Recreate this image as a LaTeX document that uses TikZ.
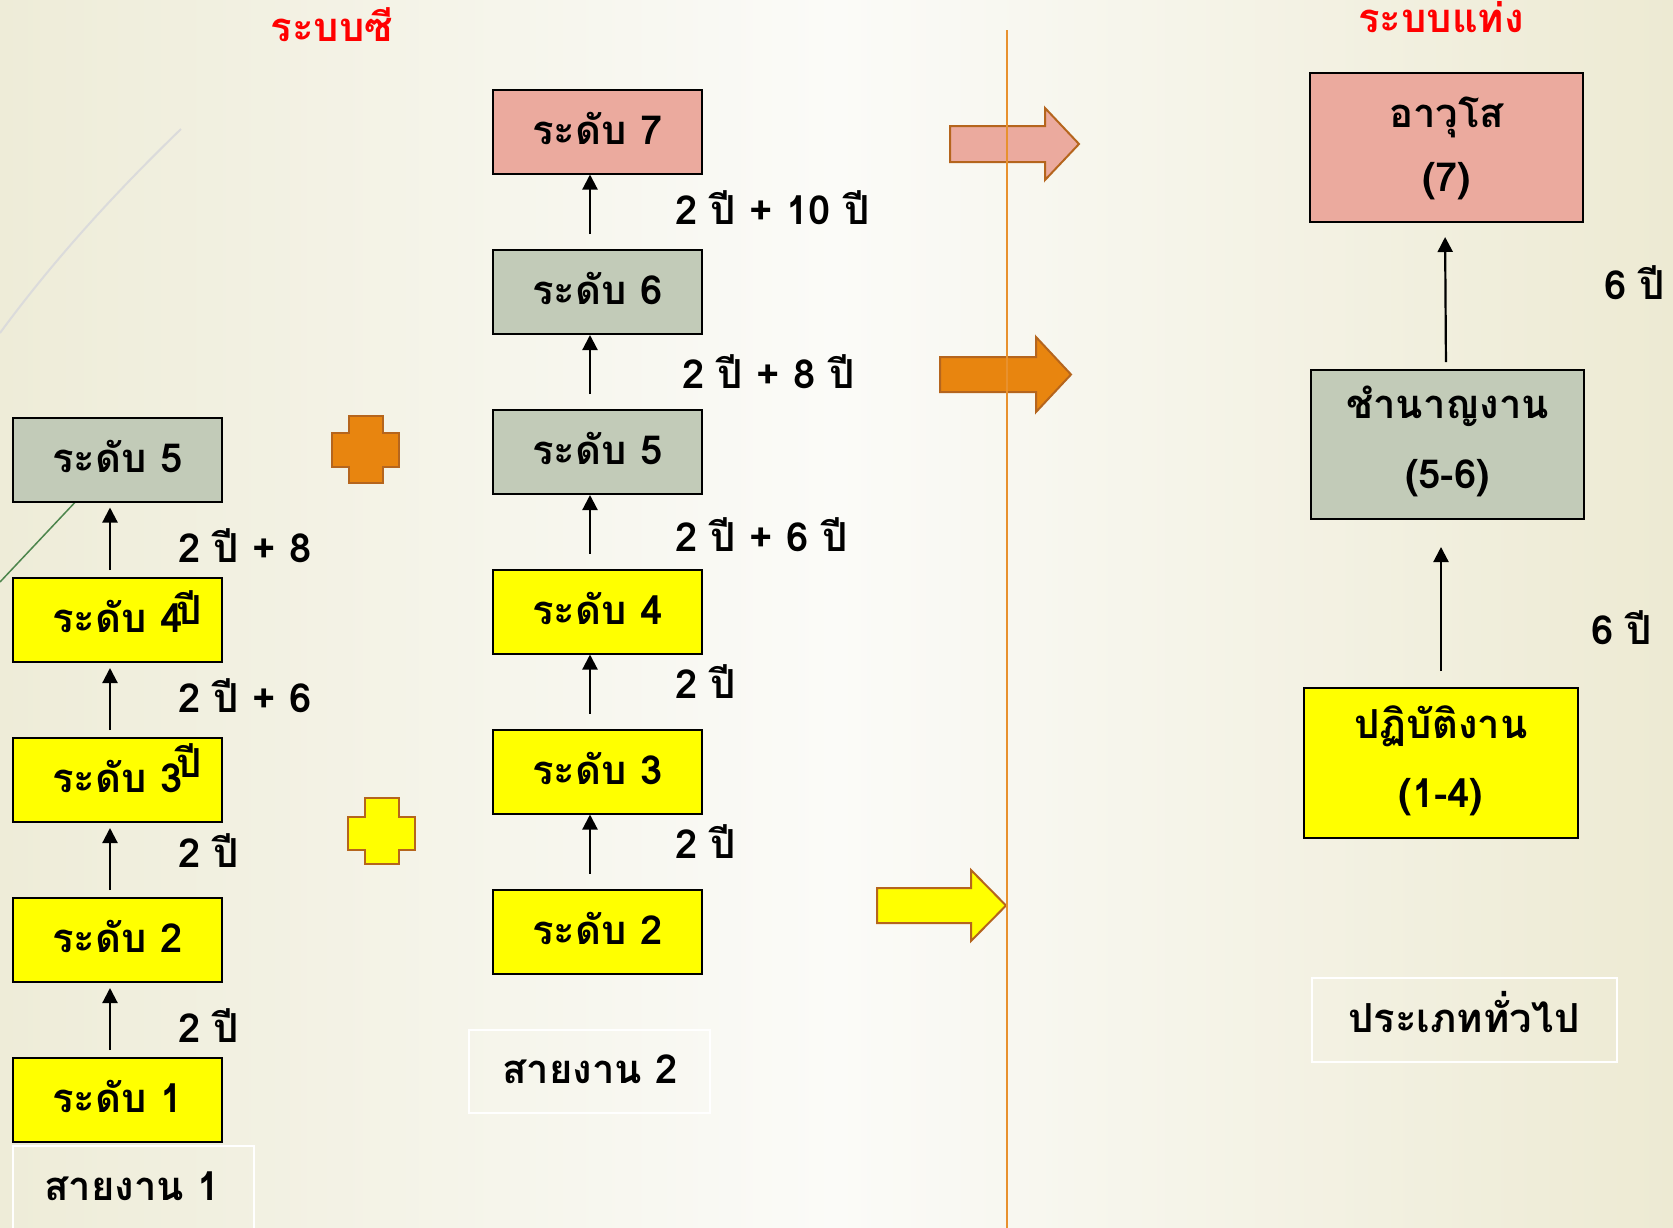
\documentclass[tikz,border=0pt]{standalone}
\usepackage{fontspec}
\newfontfamily\thai[Script=Thai]{Loma}
\usetikzlibrary{arrows.meta}
\definecolor{pinkf}{HTML}{EBAA9E}
\definecolor{greyf}{HTML}{C2CBB8}
\definecolor{yel}{HTML}{FFFF00}
\definecolor{orf}{HTML}{E8850F}
\definecolor{brd}{HTML}{B5651D}
\definecolor{vline}{HTML}{E8912E}
\definecolor{bgL}{HTML}{EEECD8}
\definecolor{bgM}{HTML}{FBFBF8}
\definecolor{bgR}{HTML}{EDEAD3}
\begin{document}
\begin{tikzpicture}[x=1pt,y=-1pt,
  tfont/.style={font=\thai\bfseries\fontsize{40}{48}\selectfont},
  lvl/.style={tfont, draw=black, line width=2pt, inner sep=0pt,
    minimum width=209pt, minimum height=84pt, text height=25pt, text depth=0pt},
  bigbox/.style={draw=black, line width=2pt, inner sep=0pt,
    minimum width=273pt, minimum height=149pt},
  capbox/.style={draw=white, line width=1.5pt, inner sep=0pt},
  txt/.style={tfont, inner sep=0pt, anchor=base},
  lbl/.style={tfont, inner sep=0pt, anchor=base west},
  ttl/.style={tfont, text=red, inner sep=0pt, anchor=base},
  up/.style={-{Triangle[length=15pt,width=15pt]}, line width=2.2pt},
  blk/.style={draw=brd, line width=2pt, line join=miter}
]
\useasboundingbox (0,0) rectangle (1673,1227);
\shade[left color=bgL, right color=bgR, middle color=bgM] (0,0) rectangle (1673,1227);
% theme decoration
\draw[color=black!14, line width=2pt] (0,333) .. controls (55,258) and (118,190) .. (181,129);
\draw[color=black!45!green!40!gray, line width=1.5pt] (0,582) -- (80,497);

% titles
\node[ttl] (t1) at (332,41) {ระบบซี};
\node[ttl] (t2) at (1441,32) {ระบบแท่ง};

% left column
\node[lvl, fill=greyf] (L5) at (117.5,459.5) {ระดับ 5};
\node[lvl, fill=yel] (L4) at (117.5,620) {ระดับ 4};
\node[lvl, fill=yel] (L3) at (117.5,780) {ระดับ 3};
\node[lvl, fill=yel] (L2) at (117.5,940) {ระดับ 2};
\node[lvl, fill=yel] (L1) at (117.5,1100) {ระดับ 1};
\node[txt] (p4) at (189,624) {ปี};
\node[txt] (p3) at (189,777) {ปี};
\draw[capbox] (13,1146) rectangle (254,1240);
\node[txt] (s1) at (132,1200) {สายงาน 1};

\foreach \a/\b in {L4/L5,L3/L4,L2/L3,L1/L2}
  \draw[up, shorten <=7pt, shorten >=5pt] ([xshift=-7.5pt]\a.north) -- ([xshift=-7.5pt]\b.south);

\node[lbl] (l54) at (178,562) {2 ปี + 8};
\node[lbl] (l43) at (178,712) {2 ปี + 6};
\node[lbl] (l32) at (178,867) {2 ปี};
\node[lbl] (l21) at (178,1042) {2 ปี};

% crosses
\draw[blk, fill=orf] (349,416) -- (383,416) -- (383,433) -- (399,433) -- (399,467) -- (383,467)
  -- (383,483) -- (349,483) -- (349,467) -- (332,467) -- (332,433) -- (349,433) -- cycle;
\draw[blk, fill=yel] (365,798) -- (399,798) -- (399,817) -- (415,817) -- (415,850) -- (399,850)
  -- (399,864) -- (365,864) -- (365,850) -- (348,850) -- (348,817) -- (365,817) -- cycle;

% middle column
\node[lvl, fill=pinkf] (M7) at (597.5,131.5) {ระดับ 7};
\node[lvl, fill=greyf] (M6) at (597.5,292) {ระดับ 6};
\node[lvl, fill=greyf] (M5) at (597.5,452) {ระดับ 5};
\node[lvl, fill=yel] (M4) at (597.5,611.5) {ระดับ 4};
\node[lvl, fill=yel] (M3) at (597.5,771.5) {ระดับ 3};
\node[lvl, fill=yel] (M2) at (597.5,931.5) {ระดับ 2};
\draw[capbox] (469,1030) rectangle (710,1113);
\node[txt] (s2) at (590,1083) {สายงาน 2};

\foreach \a/\b in {M6/M7,M5/M6,M4/M5,M3/M4,M2/M3}
  \draw[up, shorten <=15pt] ([xshift=-7.5pt]\a.north) -- ([xshift=-7.5pt]\b.south);

\node[lbl] (m76) at (675,224) {2 ปี + 10 ปี};
\node[lbl] (m65) at (682,388) {2 ปี + 8 ปี};
\node[lbl] (m54) at (675,551) {2 ปี + 6 ปี};
\node[lbl] (m43) at (675,698) {2 ปี};
\node[lbl] (m32) at (675,858) {2 ปี};

% block arrows
\draw[blk, fill=pinkf] (950,126) -- (1045,126) -- (1045,108) -- (1079,144) -- (1045,180) -- (1045,162) -- (950,162) -- cycle;
\draw[blk, fill=orf] (940,357) -- (1036,357) -- (1036,337) -- (1071,374.5) -- (1036,412) -- (1036,392) -- (940,392) -- cycle;
\draw[blk, fill=yel] (877,888) -- (971,888) -- (971,870) -- (1006,905.5) -- (971,941) -- (971,923) -- (877,923) -- cycle;

% divider
\draw[vline, line width=2pt] (1007,30) -- (1007,1230);

% right column
\node[bigbox, fill=pinkf] (R7) at (1446.5,147.5) {};
\node[txt] (r7a) at (1446.5,127) {อาวุโส};
\node[txt] (r7b) at (1446.5,191) {(7)};
\node[bigbox, fill=greyf] (R56) at (1447.5,444.5) {};
\node[txt] (r56a) at (1447.5,418) {ชำนาญงาน};
\node[txt] (r56b) at (1447.5,488) {(5-6)};
\node[bigbox, fill=yel, minimum height=150pt, minimum width=274pt] (R14) at (1441,763) {};
\node[txt] (r14a) at (1441,738) {ปฏิบัติงาน};
\node[txt] (r14b) at (1441,807) {(1-4)};
\draw[capbox] (1312,978) rectangle (1617,1062);
\node[txt] (s3) at (1464,1032) {ประเภททั่วไป};

\draw[up, shorten <=7pt, shorten >=14pt] ([xshift=-1.5pt]R56.north) -- ([xshift=-1.5pt]R7.south);
\draw[up, shorten <=16pt, shorten >=27pt] (R14.north) -- (R14.north |- R56.south);

\node[lbl] (r6a) at (1604,299) {6 ปี};
\node[lbl] (r6b) at (1591,644) {6 ปี};
\end{tikzpicture}
\end{document}
